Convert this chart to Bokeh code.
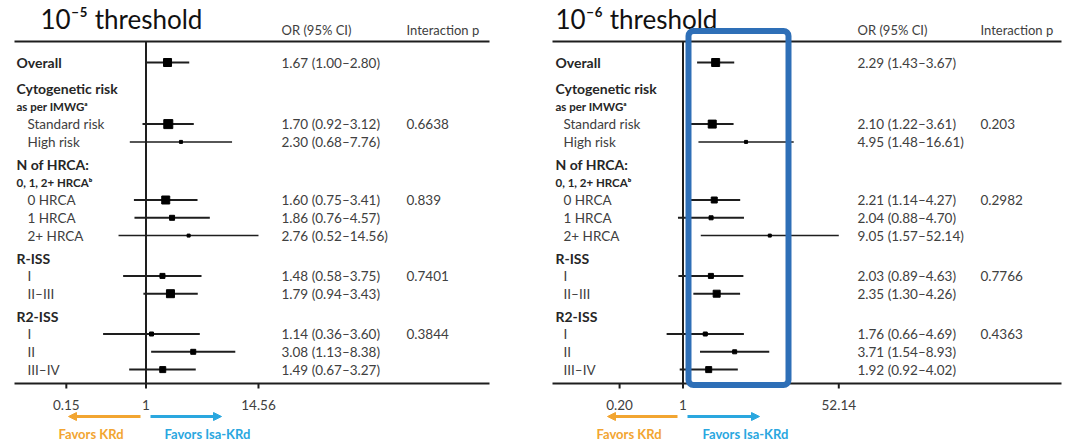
import math
from bokeh.plotting import figure
from bokeh.models import Range1d, Arrow, NormalHead, BoxAnnotation
from bokeh.layouts import row
from bokeh.embed import file_html
from bokeh.resources import INLINE
from bokeh.core.properties import value

FONT = "Lato"

# ---------------- data ----------------
row_labels = ["Overall", "Cytogenetic risk", "as per IMWGᵃ", "Standard risk", "High risk",
              "N of HRCA:", "0, 1, 2+ HRCAᵇ", "0 HRCA", "1 HRCA", "2+ HRCA",
              "R-ISS", "I", "II–III", "R2-ISS", "I", "II", "III–IV"]
row_kinds = ["data_bold", "head", "sub", "data", "data", "head", "sub", "data", "data", "data",
             "head", "data", "data", "head", "data", "data", "data"]

# 10^-5 threshold
or_e5 = [1.67, 1.70, 2.30, 1.60, 1.86, 2.76, 1.48, 1.79, 1.14, 3.08, 1.49]
lo_e5 = [1.00, 0.92, 0.68, 0.75, 0.76, 0.52, 0.58, 0.94, 0.36, 1.13, 0.67]
hi_e5 = [2.80, 3.12, 7.76, 3.41, 4.57, 14.56, 3.75, 3.43, 3.60, 8.38, 3.27]
p_e5 = ["", "0.6638", "", "0.839", "", "", "0.7401", "", "0.3844", "", ""]
ticks_e5 = [0.15, 1, 14.56]
tick_labels_e5 = ["0.15", "1", "14.56"]

# 10^-6 threshold
or_e6 = [2.29, 2.10, 4.95, 2.21, 2.04, 9.05, 2.03, 2.35, 1.76, 3.71, 1.92]
lo_e6 = [1.43, 1.22, 1.48, 1.14, 0.88, 1.57, 0.89, 1.30, 0.66, 1.54, 0.92]
hi_e6 = [3.67, 3.61, 16.61, 4.27, 4.70, 52.14, 4.63, 4.26, 4.69, 8.93, 4.02]
p_e6 = ["", "0.203", "", "0.2982", "", "", "0.7766", "", "0.4363", "", ""]
ticks_e6 = [0.20, 1, 52.14]
tick_labels_e6 = ["0.20", "1", "52.14"]

# marker sizes (style, px)
msize_e5 = [8, 9, 3, 8, 5, 3, 5, 8, 4, 5, 6]
msize_e6 = [8, 8, 3, 6, 4, 3, 5, 7, 4, 4, 6]

# ---------------- layout ----------------
def row_ys():
    ys, y = [], 62.0
    for i, k in enumerate(row_kinds):
        if i > 0:
            if k == "head":
                y += 26 if i == 1 else 22.5
            else:
                y += 17.8
        ys.append(y)
    return ys

YS = row_ys()
DATA_YS = [y for y, k in zip(YS, row_kinds) if k.startswith("data")]

TXT = "#404040"
BOLD = "#262626"
LINE = "#1e1e1e"
ORANGE = "#F2A531"
BLUE = "#2AA7DF"
H = 442
TOP_RULE = 41
AXIS_Y = 383


def panel(title, ors, los, his, ps, ticks, tlabels, msizes, g):
    px2x = lambda px: math.exp((px - g["one"]) / g["ppl"])
    W = g["w"]
    fig = figure(width=W, height=H, x_axis_type="log",
                 x_range=Range1d(px2x(g["left"]), px2x(g["left"] + W)),
                 y_range=Range1d(H, 0), x_axis_location=None, y_axis_location=None,
                 output_backend="svg", toolbar_location=None,
                 min_border=0, min_border_left=0, min_border_right=0,
                 min_border_top=0, min_border_bottom=0)
    fig.outline_line_color = None
    fig.grid.visible = False
    fig.background_fill_color = "white"
    fig.border_fill_color = "white"

    xl, xr = px2x(g["fl"]), px2x(g["fr"])
    # table rules (top and axis line)
    fig.segment(x0=[xl, xl], y0=[TOP_RULE, AXIS_Y], x1=[xr, xr], y1=[TOP_RULE, AXIS_Y],
                line_color=LINE, line_width=2)
    # ticks and tick labels
    fig.segment(x0=ticks, y0=[AXIS_Y] * len(ticks), x1=ticks, y1=[AXIS_Y + 5] * len(ticks),
                line_color=LINE, line_width=2)
    fig.text(x=ticks, y=[AXIS_Y + 21] * len(ticks), text=tlabels, text_font=value(FONT),
             text_font_size="13.5px", text_color=TXT, text_align="center", text_baseline="middle")
    # line of no effect
    fig.segment(x0=[1], y0=[TOP_RULE], x1=[1], y1=[AXIS_Y], line_color=LINE, line_width=2)

    # CIs and point estimates
    lw = [1.5 if s <= 3 else 2 for s in msizes]
    fig.segment(x0=los, y0=DATA_YS, x1=his, y1=DATA_YS, line_color=LINE, line_width=lw)
    fig.scatter(x=ors, y=DATA_YS, size=msizes, marker="square", fill_color="#000000", line_color="#000000")

    # row labels
    for lab, kind, y in zip(row_labels, row_kinds, YS):
        if kind in ("head", "data_bold"):
            xs, size, style, col = g["lb"], "14px", "bold", BOLD
        elif kind == "sub":
            xs, size, style, col = g["lb"], "11.5px", "bold", BOLD
        else:
            xs, size, style, col = g["li"], "13.5px", "normal", TXT
        fig.text(x=[px2x(xs)], y=[y], text=[lab], text_font=value(FONT), text_font_size=size,
                 text_font_style=style, text_color=col, text_baseline="middle")

    # value columns
    vals = [f"{o:.2f} ({l:.2f}–{h:.2f})" for o, l, h in zip(ors, los, his)]
    fig.text(x=[px2x(g["cv"])] * len(vals), y=DATA_YS, text=vals, text_font=value(FONT),
             text_font_size="13.5px", text_color=TXT, text_baseline="middle")
    fig.text(x=[px2x(g["cp"])] * len(ps), y=DATA_YS, text=ps, text_font=value(FONT),
             text_font_size="13.5px", text_color=TXT, text_baseline="middle")
    fig.text(x=[px2x(g["cv"]), px2x(g["cp"])], y=[29, 29], text=["OR (95% CI)", "Interaction p"],
             text_font=value(FONT), text_font_size="13px", text_color=TXT, text_baseline="middle")

    # title
    fig.text(x=[px2x(g["tx"])], y=[18], text=[title], text_font=value(FONT), text_font_size="26px",
             text_color="#111111", text_baseline="middle")

    # direction arrows
    for (a0, a1), c in ((g["ao"], ORANGE), (g["ab"], BLUE)):
        fig.add_layout(Arrow(x_start=px2x(a0), y_start=416, x_end=px2x(a1), y_end=416,
                             line_color=c, line_width=3,
                             end=NormalHead(size=8, line_color=c, fill_color=c, line_width=1)))
    fig.text(x=[px2x(g["fk"]), px2x(g["fi"])], y=[433, 433], text=["Favors KRd", "Favors Isa-KRd"],
             text_font=value(FONT), text_font_size="13px", text_font_style="bold",
             text_color=[ORANGE, BLUE], text_baseline="middle")

    if "box" in g:
        b0, b1 = g["box"]
        fig.add_layout(BoxAnnotation(left=px2x(b0), right=px2x(b1), top=30.5, bottom=384.5,
                                     fill_color=None, fill_alpha=0, line_color="#2E6FB7",
                                     line_alpha=1.0, line_width=6, border_radius=5, level="overlay"))
    return fig


geo_e5 = dict(left=0, w=537, fl=14, fr=489, one=145.5, ppl=42.0, cv=281, cp=406, lb=16, li=27, tx=40,
              ao=(140, 68), ab=(150, 221), fk=58, fi=164)
geo_e6 = dict(left=537, w=537, fl=552, fr=1061, one=682.5, ppl=39.4, cv=857, cp=980, lb=555, li=563, tx=555,
              ao=(677, 607), ab=(687, 759), fk=596, fi=702, box=(688, 788))

p1 = panel("10⁻⁵ threshold", or_e5, lo_e5, hi_e5, p_e5, ticks_e5, tick_labels_e5, msize_e5, geo_e5)
p2 = panel("10⁻⁶ threshold", or_e6, lo_e6, hi_e6, p_e6, ticks_e6, tick_labels_e6, msize_e6, geo_e6)

layout = row(p1, p2)
open("out.html", "w").write(file_html(layout, INLINE))
